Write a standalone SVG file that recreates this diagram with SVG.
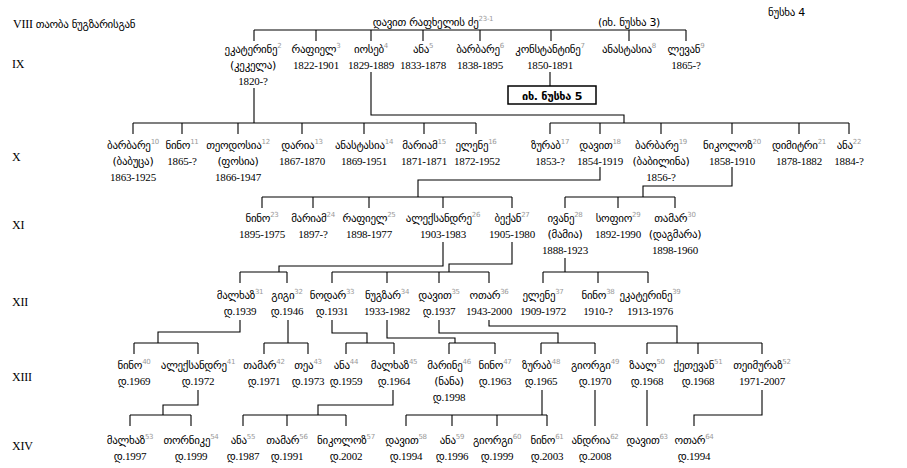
<svg xmlns="http://www.w3.org/2000/svg" width="907" height="468" viewBox="0 0 907 468">
<style>
text{font-family:"Liberation Serif","DejaVu Sans",serif;font-size:11px;fill:#000;text-anchor:middle;letter-spacing:-0.2px}
.l{text-anchor:start;font-size:12px}
.s{font-size:7px;fill:#999}
.g{font-family:"DejaVu Sans","Liberation Serif",sans-serif;font-size:11px;letter-spacing:-0.3px}
#conn path{fill:none;stroke:#000;stroke-width:1.1}
</style>
<rect width="907" height="468" fill="#fff"/>
<g id="labels">
<text class="l" x="13" y="28">VIII <tspan class="g">თაობა ნუგზარისგან</tspan></text>
<text class="l g" x="768" y="16">ნუსხა 4</text>
<text class="l" x="12" y="68">IX</text>
<text class="l" x="12" y="161">X</text>
<text class="l" x="12" y="229">XI</text>
<text class="l" x="12" y="306">XII</text>
<text class="l" x="12" y="381">XIII</text>
<text class="l" x="12" y="450">XIV</text>
</g>
<g id="root"><text class="g" x="433" y="26">დავით რაფხელის ძე<tspan class="s" dy="-5">23-1</tspan></text>
<text class="g" x="629" y="26">(იხ. ნუსხა 3)</text></g>
<g id="conn">
<path d="M254 30H686M254 30V41M316 30V41M371 30V41M423 30V41M480 30V41M551 30V41M629 30V41M686 30V41"/>
<path d="M550 72V86M254 88V123M133 123H476M133 123V134M182 123V134M238 123V134M302 123V134M364 123V134M424 123V134M476 123V134"/>
<path d="M371 72V115H624V123M550 123H849M550 123V134M600 123V134M661 123V134M732 123V134M799 123V134M849 123V134"/>
<path d="M600 167V180H418V197M262 197H512M262 197V208M313 197V208M369 197V208M443 197V208M512 197V208"/>
<path d="M732 167V186H643V197M565 197H675M565 197V208M618 197V208M675 197V208"/>
<path d="M443 242V266H279V272M240 272H287M240 272V283M287 272V283"/>
<path d="M512 242V264H449V272M332 272H489M332 272V283M387 272V283M439 272V283M489 272V283"/>
<path d="M565 258V272M543 272H648M543 272V283M598 272V283M648 272V283"/>
<path d="M240 320V332H158V343M134 343H198M134 343V354M198 343V354"/>
<path d="M288 320V343M264 343H308M264 343V354M308 343V354"/>
<path d="M332 320V333H367V343M346 343H394M346 343V354M394 343V354"/>
<path d="M387 320V338H455V343M449 343H495M449 343V354M495 343V354"/>
<path d="M439 320V333H558V343M541 343H595M541 343V354M595 343V354"/>
<path d="M489 320V326H677V343M647 343H762M647 343V354M698 343V354M762 343V354"/>
<path d="M198 390V405H163V415M130 415H191M130 415V426M191 415V426"/>
<path d="M393 390V405H318V415M243 415H346M243 415V426M287 415V426M346 415V426"/>
<path d="M542 390V415M406 415H547M406 415V426M452 415V426M497 415V426M547 415V426"/>
<path d="M595 390V426M647 390V426M762 390V415H694V426"/>
</g>
<rect x="508" y="86" width="88" height="18" fill="none" stroke="#000" stroke-width="1.5"/>
<text class="g" x="552" y="100" font-weight="bold">იხ. ნუსხა 5</text>
<g id="n2"><text class="g" x="253" y="53">ეკატერინე<tspan class="s" dy="-5">2</tspan></text><text class="g" x="253" y="69">(კეკელა)</text><text x="253" y="85">1820-?</text></g>
<g id="n3"><text class="g" x="316" y="53">რაფიელ<tspan class="s" dy="-5">3</tspan></text><text x="316" y="69">1822-1901</text></g>
<g id="n4"><text class="g" x="371" y="53">იოსებ<tspan class="s" dy="-5">4</tspan></text><text x="371" y="69">1829-1889</text></g>
<g id="n5"><text class="g" x="423" y="53">ანა<tspan class="s" dy="-5">5</tspan></text><text x="423" y="69">1833-1878</text></g>
<g id="n6"><text class="g" x="480" y="53">ბარბარე<tspan class="s" dy="-5">6</tspan></text><text x="480" y="69">1838-1895</text></g>
<g id="n7"><text class="g" x="550" y="53">კონსტანტინე<tspan class="s" dy="-5">7</tspan></text><text x="550" y="69">1850-1891</text></g>
<g id="n8"><text class="g" x="629" y="53">ანასტასია<tspan class="s" dy="-5">8</tspan></text></g>
<g id="n9"><text class="g" x="686" y="53">ლევან<tspan class="s" dy="-5">9</tspan></text><text x="686" y="69">1865-?</text></g>
<g id="n10"><text class="g" x="133" y="149">ბარბარე<tspan class="s" dy="-5">10</tspan></text><text class="g" x="133" y="165">(ბაბუცა)</text><text x="133" y="181">1863-1925</text></g>
<g id="n11"><text class="g" x="182" y="149">ნინო<tspan class="s" dy="-5">11</tspan></text><text x="182" y="165">1865-?</text></g>
<g id="n12"><text class="g" x="238" y="149">თეოდოსია<tspan class="s" dy="-5">12</tspan></text><text class="g" x="238" y="165">(ფოსია)</text><text x="238" y="181">1866-1947</text></g>
<g id="n13"><text class="g" x="302" y="149">დარია<tspan class="s" dy="-5">13</tspan></text><text x="302" y="165">1867-1870</text></g>
<g id="n14"><text class="g" x="364" y="149">ანასტასია<tspan class="s" dy="-5">14</tspan></text><text x="364" y="165">1869-1951</text></g>
<g id="n15"><text class="g" x="424" y="149">მარიამ<tspan class="s" dy="-5">15</tspan></text><text x="424" y="165">1871-1871</text></g>
<g id="n16"><text class="g" x="476" y="149">ელენე<tspan class="s" dy="-5">16</tspan></text><text x="477" y="165">1872-1952</text></g>
<g id="n17"><text class="g" x="550" y="149">ზურაბ<tspan class="s" dy="-5">17</tspan></text><text x="550" y="165">1853-?</text></g>
<g id="n18"><text class="g" x="600" y="149">დავით<tspan class="s" dy="-5">18</tspan></text><text x="600" y="165">1854-1919</text></g>
<g id="n19"><text class="g" x="661" y="149">ბარბარე<tspan class="s" dy="-5">19</tspan></text><text class="g" x="661" y="165">(ბაბილინა)</text><text x="661" y="181">1856-?</text></g>
<g id="n20"><text class="g" x="732" y="149">ნიკოლოზ<tspan class="s" dy="-5">20</tspan></text><text x="732" y="165">1858-1910</text></g>
<g id="n21"><text class="g" x="799" y="149">დიმიტრი<tspan class="s" dy="-5">21</tspan></text><text x="799" y="165">1878-1882</text></g>
<g id="n22"><text class="g" x="849" y="149">ანა<tspan class="s" dy="-5">22</tspan></text><text x="849" y="165">1884-?</text></g>
<g id="n23"><text class="g" x="262" y="222">ნინო<tspan class="s" dy="-5">23</tspan></text><text x="262" y="238">1895-1975</text></g>
<g id="n24"><text class="g" x="313" y="222">მარიამ<tspan class="s" dy="-5">24</tspan></text><text x="313" y="238">1897-?</text></g>
<g id="n25"><text class="g" x="369" y="222">რაფიელ<tspan class="s" dy="-5">25</tspan></text><text x="369" y="238">1898-1977</text></g>
<g id="n26"><text class="g" x="443" y="222">ალექსანდრე<tspan class="s" dy="-5">26</tspan></text><text x="443" y="238">1903-1983</text></g>
<g id="n27"><text class="g" x="512" y="222">ბექან<tspan class="s" dy="-5">27</tspan></text><text x="512" y="238">1905-1980</text></g>
<g id="n28"><text class="g" x="565" y="222">ივანე<tspan class="s" dy="-5">28</tspan></text><text class="g" x="565" y="238">(მამია)</text><text x="565" y="254">1888-1923</text></g>
<g id="n29"><text class="g" x="618" y="222">სოფიო<tspan class="s" dy="-5">29</tspan></text><text x="618" y="238">1892-1990</text></g>
<g id="n30"><text class="g" x="675" y="222">თამარ<tspan class="s" dy="-5">30</tspan></text><text class="g" x="675" y="238">(დაგმარა)</text><text x="675" y="254">1898-1960</text></g>
<g id="n31"><text class="g" x="240" y="299">მალხაზ<tspan class="s" dy="-5">31</tspan></text><text x="240" y="315">დ.1939</text></g>
<g id="n32"><text class="g" x="287" y="299">გიგი<tspan class="s" dy="-5">32</tspan></text><text x="287" y="315">დ.1946</text></g>
<g id="n33"><text class="g" x="332" y="299">ნოდარ<tspan class="s" dy="-5">33</tspan></text><text x="332" y="315">დ.1931</text></g>
<g id="n34"><text class="g" x="387" y="299">ნუგზარ<tspan class="s" dy="-5">34</tspan></text><text x="387" y="315">1933-1982</text></g>
<g id="n35"><text class="g" x="439" y="299">დავით<tspan class="s" dy="-5">35</tspan></text><text x="439" y="315">დ.1937</text></g>
<g id="n36"><text class="g" x="489" y="299">ოთარ<tspan class="s" dy="-5">36</tspan></text><text x="489" y="315">1943-2000</text></g>
<g id="n37"><text class="g" x="543" y="299">ელენე<tspan class="s" dy="-5">37</tspan></text><text x="543" y="315">1909-1972</text></g>
<g id="n38"><text class="g" x="598" y="299">ნინო<tspan class="s" dy="-5">38</tspan></text><text x="598" y="315">1910-?</text></g>
<g id="n39"><text class="g" x="650" y="299">ეკატერინე<tspan class="s" dy="-5">39</tspan></text><text x="650" y="315">1913-1976</text></g>
<g id="n40"><text class="g" x="134" y="369">ნინო<tspan class="s" dy="-5">40</tspan></text><text x="134" y="385">დ.1969</text></g>
<g id="n41"><text class="g" x="198" y="369">ალექსანდრე<tspan class="s" dy="-5">41</tspan></text><text x="198" y="385">დ.1972</text></g>
<g id="n42"><text class="g" x="264" y="369">თამარ<tspan class="s" dy="-5">42</tspan></text><text x="264" y="385">დ.1971</text></g>
<g id="n43"><text class="g" x="308" y="369">თეა<tspan class="s" dy="-5">43</tspan></text><text x="308" y="385">დ.1973</text></g>
<g id="n44"><text class="g" x="346" y="369">ანა<tspan class="s" dy="-5">44</tspan></text><text x="346" y="385">დ.1959</text></g>
<g id="n45"><text class="g" x="394" y="369">მალხაზ<tspan class="s" dy="-5">45</tspan></text><text x="394" y="385">დ.1964</text></g>
<g id="n46"><text class="g" x="449" y="369">მარინე<tspan class="s" dy="-5">46</tspan></text><text class="g" x="449" y="385">(ნანა)</text><text x="449" y="401">დ.1998</text></g>
<g id="n47"><text class="g" x="495" y="369">ნინო<tspan class="s" dy="-5">47</tspan></text><text x="495" y="385">დ.1963</text></g>
<g id="n48"><text class="g" x="541" y="369">ზურაბ<tspan class="s" dy="-5">48</tspan></text><text x="541" y="385">დ.1965</text></g>
<g id="n49"><text class="g" x="595" y="369">გიორგი<tspan class="s" dy="-5">49</tspan></text><text x="595" y="385">დ.1970</text></g>
<g id="n50"><text class="g" x="647" y="369">ზაალ<tspan class="s" dy="-5">50</tspan></text><text x="647" y="385">დ.1968</text></g>
<g id="n51"><text class="g" x="698" y="369">ქეთევან<tspan class="s" dy="-5">51</tspan></text><text x="698" y="385">დ.1968</text></g>
<g id="n52"><text class="g" x="762" y="369">თეიმურაზ<tspan class="s" dy="-5">52</tspan></text><text x="762" y="385">1971-2007</text></g>
<g id="n53"><text class="g" x="130" y="444">მალხაზ<tspan class="s" dy="-5">53</tspan></text><text x="130" y="460">დ.1997</text></g>
<g id="n54"><text class="g" x="191" y="444">თორნიკე<tspan class="s" dy="-5">54</tspan></text><text x="191" y="460">დ.1999</text></g>
<g id="n55"><text class="g" x="243" y="444">ანა<tspan class="s" dy="-5">55</tspan></text><text x="243" y="460">დ.1987</text></g>
<g id="n56"><text class="g" x="287" y="444">თამარ<tspan class="s" dy="-5">56</tspan></text><text x="287" y="460">დ.1991</text></g>
<g id="n57"><text class="g" x="346" y="444">ნიკოლოზ<tspan class="s" dy="-5">57</tspan></text><text x="346" y="460">დ.2002</text></g>
<g id="n58"><text class="g" x="406" y="444">დავით<tspan class="s" dy="-5">58</tspan></text><text x="406" y="460">დ.1994</text></g>
<g id="n59"><text class="g" x="452" y="444">ანა<tspan class="s" dy="-5">59</tspan></text><text x="452" y="460">დ.1996</text></g>
<g id="n60"><text class="g" x="497" y="444">გიორგი<tspan class="s" dy="-5">60</tspan></text><text x="497" y="460">დ.1999</text></g>
<g id="n61"><text class="g" x="547" y="444">ნინო<tspan class="s" dy="-5">61</tspan></text><text x="547" y="460">დ.2003</text></g>
<g id="n62"><text class="g" x="595" y="444">ანდრია<tspan class="s" dy="-5">62</tspan></text><text x="595" y="460">დ.2008</text></g>
<g id="n63"><text class="g" x="647" y="444">დავით<tspan class="s" dy="-5">63</tspan></text></g>
<g id="n64"><text class="g" x="694" y="444">ოთარ<tspan class="s" dy="-5">64</tspan></text><text x="694" y="460">დ.1994</text></g>
</svg>
